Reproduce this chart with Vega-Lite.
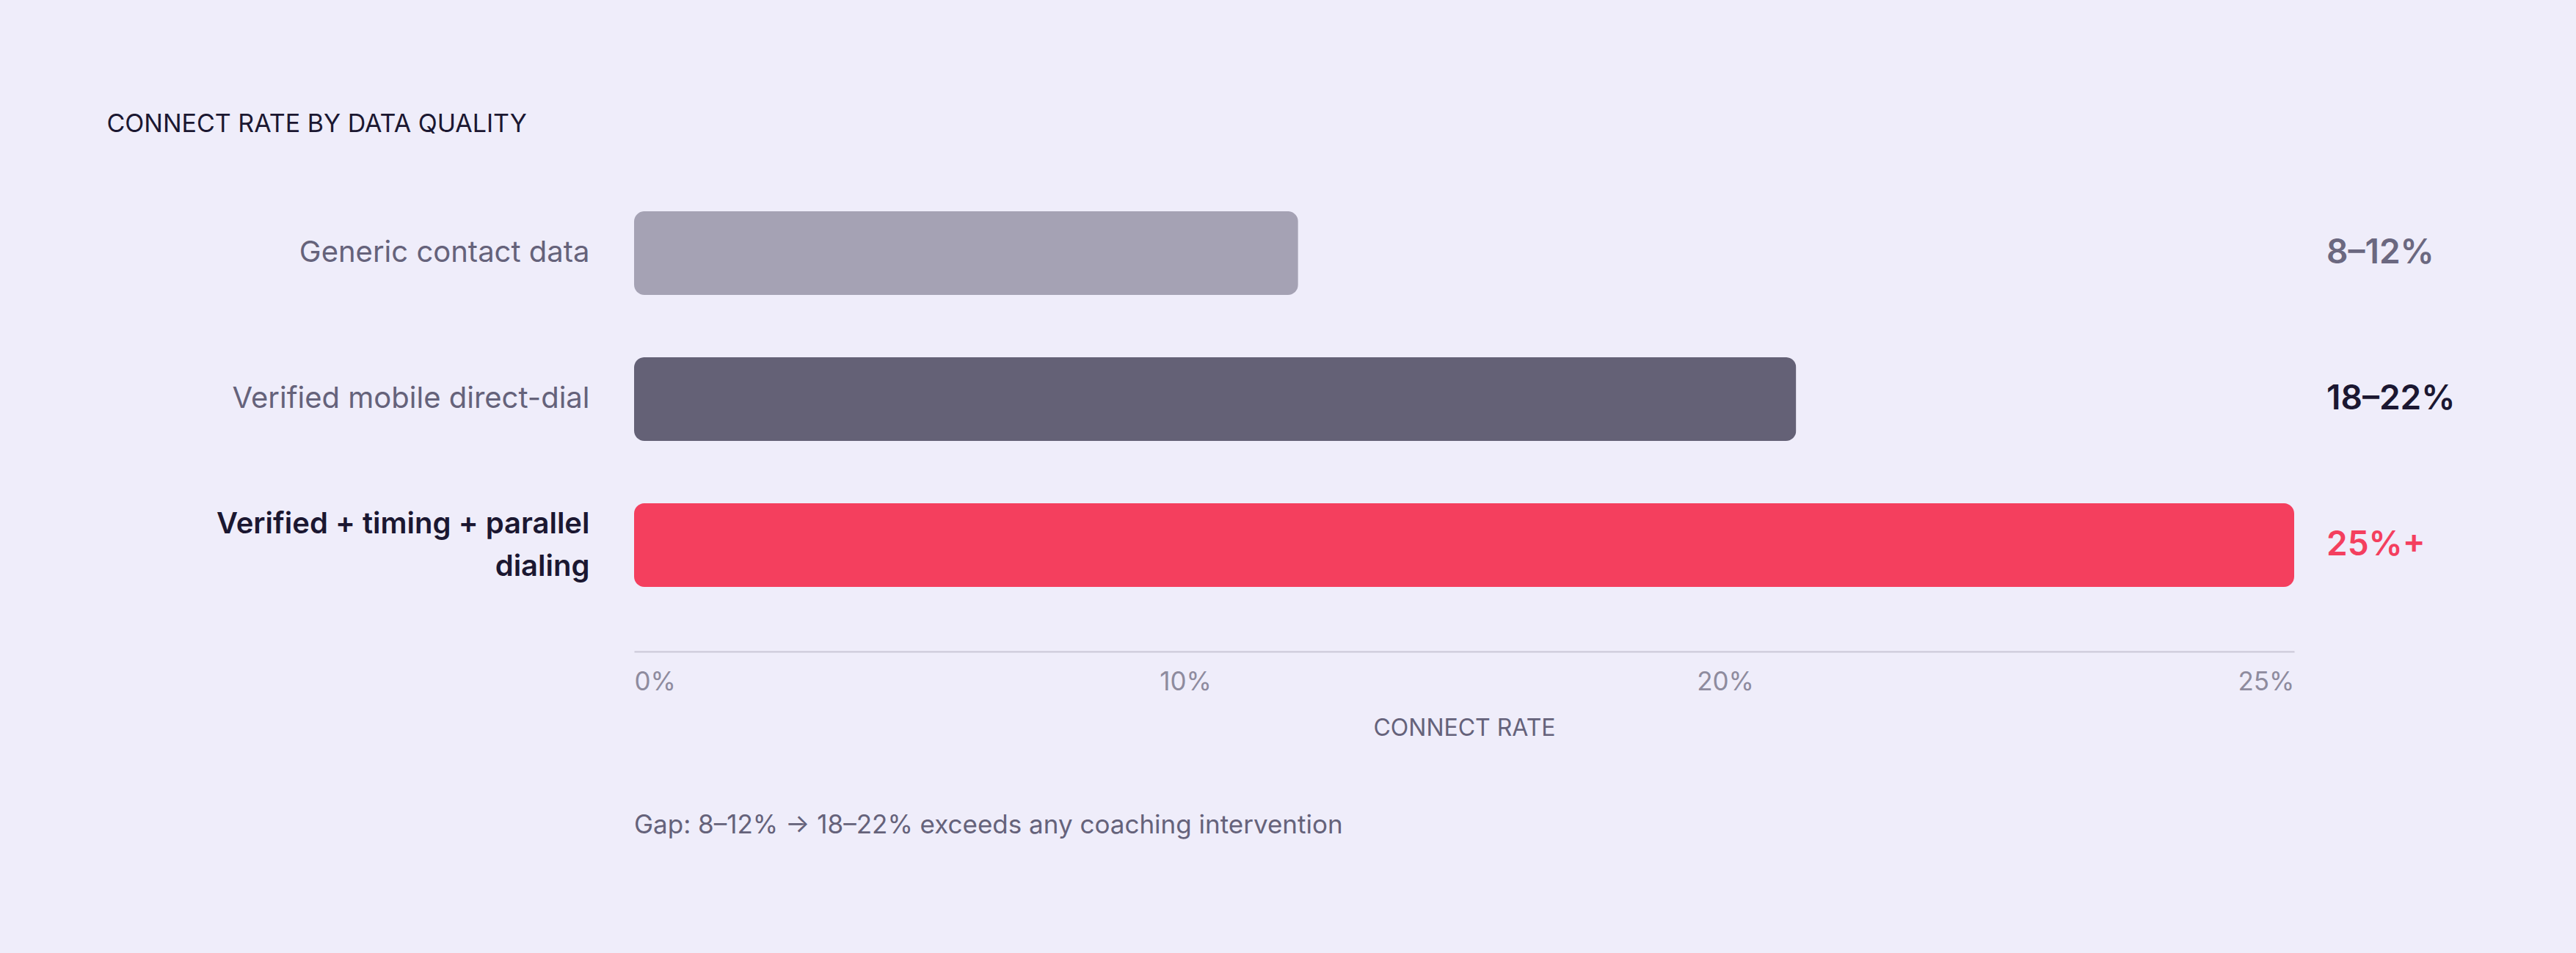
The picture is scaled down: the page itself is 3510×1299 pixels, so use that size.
{
  "$schema": "https://vega.github.io/schema/vega-lite/v6.json",
  "autosize": "none",
  "width": 2262,
  "height": 688,
  "padding": {"left": 864, "top": 200, "right": 384, "bottom": 411},
  "background": "#efedfa",
  "title": {
    "text": "Gap: 8–12% → 18–22% exceeds any coaching intervention",
    "orient": "bottom",
    "anchor": "start",
    "frame": "group",
    "offset": 100,
    "font": "Inter",
    "fontSize": 35,
    "fontWeight": "normal",
    "color": "#65627a"
  },
  "data": {
    "values": [
      {"tier": "Generic contact data", "rate": 10, "range": "8–12%"},
      {"tier": "Verified mobile direct-dial", "rate": 17.5, "range": "18–22%"},
      {"tier": "Verified + timing + parallel dialing", "rate": 25, "range": "25%+"}
    ]
  },
  "encoding": {
    "y": {
      "field": "tier",
      "type": "nominal",
      "sort": null,
      "scale": {"paddingInner": 0.427, "paddingOuter": 0.442},
      "axis": {
        "title": "CONNECT RATE BY DATA QUALITY",
        "titleAngle": 0,
        "titleX": -719,
        "titleY": -21,
        "titleAlign": "left",
        "titleBaseline": "alphabetic",
        "titleFont": "Inter",
        "titleFontSize": 34,
        "titleFontWeight": "normal",
        "titleColor": "#1b1731",
        "labelFont": "Inter",
        "labelFontSize": 40,
        "labelColor": {"condition": {"test": "datum.value == 'Verified + timing + parallel dialing'", "value": "#1b1731"}, "value": "#65627a"},
        "labelFontWeight": {"condition": {"test": "datum.value == 'Verified + timing + parallel dialing'", "value": 600}, "value": "normal"},
        "labelOffset": {"condition": {"test": "datum.value == 'Verified + timing + parallel dialing'", "value": -28}, "value": 0},
        "labelExpr": "datum.value == 'Verified + timing + parallel dialing' ? ['Verified + timing + parallel', 'dialing'] : datum.label",
        "labelLineHeight": 58,
        "labelPadding": 61,
        "labelLimit": 0,
        "ticks": false,
        "domain": false
      }
    }
  },
  "layer": [
    {
      "mark": {"type": "bar", "cornerRadius": 14},
      "encoding": {
        "x": {
          "field": "rate",
          "type": "quantitative",
          "scale": {"domain": [0, 25], "nice": false},
          "axis": {
            "title": "CONNECT RATE",
            "values": [0, 8.3, 16.43, 25],
            "labelExpr": "datum.value == 0 ? '0%' : datum.value < 10 ? '10%' : datum.value < 20 ? '20%' : '25%'",
            "labelFlush": true,
            "grid": false,
            "ticks": false,
            "domainColor": "#cac7d6",
            "domainWidth": 2,
            "labelFont": "Inter",
            "labelFontSize": 35,
            "labelColor": "#8e8b9e",
            "labelPadding": 24,
            "titleFont": "Inter",
            "titleFontSize": 32,
            "titleFontWeight": "normal",
            "titleColor": "#65627a",
            "titlePadding": 30
          }
        },
        "color": {
          "field": "tier",
          "type": "nominal",
          "scale": {
            "domain": ["Generic contact data", "Verified mobile direct-dial", "Verified + timing + parallel dialing"],
            "range": ["#a5a2b4", "#646176", "#f43f5e"]
          },
          "legend": null
        }
      }
    },
    {
      "mark": {"type": "text", "align": "left", "baseline": "middle", "dx": 44, "font": "Inter", "fontSize": 46, "fontWeight": 600},
      "encoding": {
        "x": {"datum": 25, "type": "quantitative"},
        "text": {"field": "range", "type": "nominal"},
        "color": {
          "field": "tier",
          "type": "nominal",
          "scale": {
            "domain": ["Generic contact data", "Verified mobile direct-dial", "Verified + timing + parallel dialing"],
            "range": ["#6b6880", "#1b1731", "#f43f5e"]
          },
          "legend": null
        }
      }
    }
  ],
  "resolve": {"scale": {"color": "independent"}},
  "config": {"view": {"stroke": null}}
}
